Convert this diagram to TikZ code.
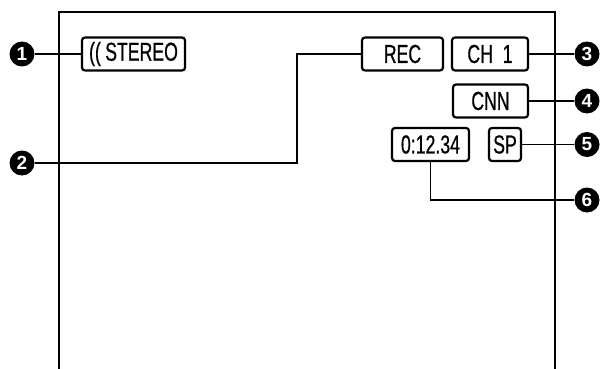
\documentclass[tikz,border=0pt]{standalone}
\usepackage{fontspec}
\setmainfont{Liberation Sans}[FakeStretch=0.68,FakeBold=0.6]
\newfontfamily\circfont{Liberation Sans}
\begin{document}
\begin{tikzpicture}[x=1pt,y=-1pt,
  disp/.style={draw,line width=2.2pt,rounded corners=3pt,inner sep=0pt,
    minimum height=33pt,font=\fontsize{26}{26}\selectfont},
  num/.style={circle,fill=black,inner sep=0pt,minimum size=25pt,text=white,
    font=\circfont\bfseries\fontsize{19}{19}\selectfont},
  conn/.style={line width=1.6pt}]
\useasboundingbox (0,0) rectangle (605,369);
% frame
\draw[line width=2.2pt] (59,372) -- (59,12) -- (555,12) -- (555,372);
% displays
\node[disp,minimum width=103pt] (stereo) at (133.5,54) {((\,STEREO};
\node[disp,minimum width=81pt] (rec) at (402.5,54) {REC};
\node[disp,minimum width=76pt] (ch) at (490,54) {CH\ \ 1};
\node[disp,minimum width=75pt] (cnn) at (490.5,101) {CNN};
\node[disp,minimum width=77pt] (time) at (430.5,144.5) {0:12.34};
\node[disp,minimum width=32pt] (sp) at (505,144.5) {SP};
% callouts
\node[num] (c1) at (22,54) {1};
\node[num] (c2) at (22,163) {2};
\node[num] (c3) at (587,54) {3};
\node[num] (c4) at (587,101) {4};
\node[num] (c5) at (587,144.5) {5};
\node[num] (c6) at (587,200) {6};
\coordinate (k2) at (297,54);
% connectors
\draw[conn] (c1) -- (stereo.west);
\draw[conn] (rec.west) -- (k2) |- (c2);
\draw[conn] (ch.east) -- (c3);
\draw[conn] (cnn.east) -- (c4);
\draw[conn] (sp.east) -- (c5);
\draw[conn] (time.south) |- (c6);
\end{tikzpicture}
\end{document}
